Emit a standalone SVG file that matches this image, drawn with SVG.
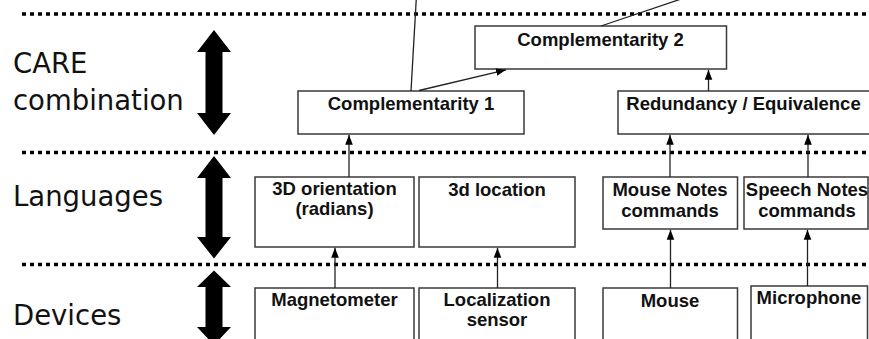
<svg xmlns="http://www.w3.org/2000/svg" width="869" height="339" viewBox="0 0 869 339">
<style>
.sep{stroke:#000;stroke-width:3.5;stroke-dasharray:4 4;fill:none}
.box{fill:#fff;stroke:#3a3a3a;stroke-width:1.5}
.t{font-family:"Liberation Sans",Arial,sans-serif;font-weight:bold;font-size:18.5px;fill:#111;text-anchor:middle}
.lbl{font-family:"DejaVu Sans",Verdana,sans-serif;font-size:27.5px;fill:#111}
.con{stroke:#222;stroke-width:1.3;fill:none}
.big{fill:#000}
</style>
<defs>
<marker id="ah" markerUnits="userSpaceOnUse" markerWidth="10" markerHeight="10" viewBox="0 0 10 10" refX="10" refY="5" orient="auto">
<path d="M0,1.2 L10,5 L0,8.8 Z" fill="#000"/>
</marker>
</defs>
<g id="separators">
<line class="sep" x1="22" y1="14" x2="867" y2="14"/>
<line class="sep" x1="22" y1="152.5" x2="867" y2="152.5"/>
<line class="sep" x1="22" y1="264.5" x2="867" y2="264.5"/>
</g>
<g id="labels">
<text class="lbl" x="13" y="73">CARE</text>
<text class="lbl" x="13" y="110">combination</text>
<text class="lbl" x="13" y="206">Languages</text>
<text class="lbl" x="13" y="325">Devices</text>
</g>
<g id="level-arrows">
<path class="big" d="M214,30 L231,52 L222.5,52 L222.5,113 L231,113 L214,135 L197,113 L205.5,113 L205.5,52 L197,52 Z"/>
<path class="big" d="M214,156 L231,178 L222.5,178 L222.5,237 L231,237 L214,258.5 L197,237 L205.5,237 L205.5,178 L197,178 Z"/>
<path class="big" d="M214,270.5 L231,287 L222.5,287 L222.5,327 L231,327 L214,345 L197,327 L205.5,327 L205.5,287 L197,287 Z"/>
</g>
<g id="comp2"><rect class="box" x="475" y="26" width="251.5" height="43"/><text class="t" x="600.5" y="46">Complementarity 2</text></g>
<g id="comp1"><rect class="box" x="298" y="91" width="226" height="43"/><text class="t" x="411" y="110">Complementarity 1</text></g>
<g id="redundancy"><rect class="box" x="618" y="91" width="260" height="43"/><text class="t" x="743.5" y="110">Redundancy / Equivalence</text></g>
<g id="orientation"><rect class="box" x="255" y="177" width="159" height="70"/><text class="t" x="334.5" y="195">3D orientation</text><text class="t" x="334.5" y="214.5">(radians)</text></g>
<g id="location"><rect class="box" x="419" y="177" width="156" height="70"/><text class="t" x="497" y="195.5">3d location</text></g>
<g id="mousenotes"><rect class="box" x="603" y="177" width="134.5" height="52"/><text class="t" x="670" y="195.5">Mouse Notes</text><text class="t" x="670" y="216.5">commands</text></g>
<g id="speechnotes"><rect class="box" x="744" y="177" width="124" height="52"/><text class="t" x="807" y="195.5">Speech Notes</text><text class="t" x="807" y="216.5">commands</text></g>
<g id="magnetometer"><rect class="box" x="255" y="288" width="159" height="60"/><text class="t" x="334.5" y="305.5">Magnetometer</text></g>
<g id="localization"><rect class="box" x="419" y="288" width="156" height="60"/><text class="t" x="497" y="305.5">Localization</text><text class="t" x="497" y="325.5">sensor</text></g>
<g id="mouse"><rect class="box" x="603" y="288" width="134.5" height="60"/><text class="t" x="670" y="306.5">Mouse</text></g>
<g id="microphone"><rect class="box" x="751" y="286" width="116.5" height="62"/><text class="t" x="809" y="304">Microphone</text></g>
<g id="connectors">
<line class="con" x1="349" y1="177" x2="349" y2="134.8" marker-end="url(#ah)"/>
<line class="con" x1="670" y1="177" x2="670" y2="134.8" marker-end="url(#ah)"/>
<line class="con" x1="808" y1="177" x2="808" y2="134.8" marker-end="url(#ah)"/>
<line class="con" x1="335" y1="288" x2="335" y2="247.8" marker-end="url(#ah)"/>
<line class="con" x1="497.5" y1="288" x2="497.5" y2="247.8" marker-end="url(#ah)"/>
<line class="con" x1="670.5" y1="288" x2="670.5" y2="229.8" marker-end="url(#ah)"/>
<line class="con" x1="807.5" y1="286" x2="807.5" y2="229.8" marker-end="url(#ah)"/>
<line class="con" x1="708.5" y1="91" x2="708.5" y2="69.8" marker-end="url(#ah)"/>
<line class="con" x1="419" y1="90.5" x2="506" y2="69.8" marker-end="url(#ah)"/>
<line class="con" x1="416.5" y1="-5" x2="411" y2="91"/>
<line class="con" x1="693" y1="-5" x2="601" y2="26"/>
</g>
</svg>
